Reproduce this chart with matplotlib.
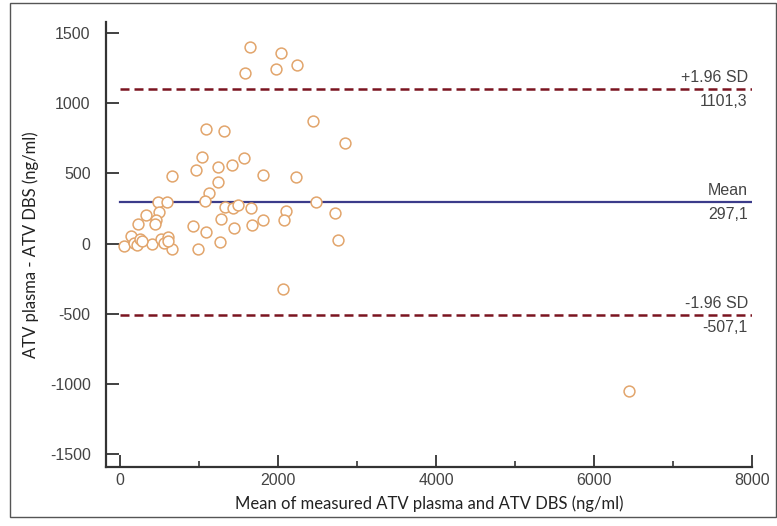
import matplotlib
matplotlib.use("Agg")
import matplotlib.pyplot as plt
from matplotlib.patches import Rectangle
from matplotlib.ticker import FuncFormatter

# Bland-Altman data: mean of both methods vs. difference (plasma - DBS)
mean_conc = [1646, 2034, 1582, 1975, 2244, 2439, 2848, 1089, 1312, 1042,
             966, 1236, 1413, 1570, 662, 1814, 2224, 1236, 1131, 1076,
             481, 591, 2481, 1325, 1434, 1489, 1662, 2105, 2717, 325,
             494, 456, 443, 224, 1282, 1806, 2072, 920, 1667, 1447,
             1093, 1262, 2764, 991, 662, 401, 51, 135, 177, 211,
             253, 274, 519, 557, 612, 612, 2059, 6443]
difference = [1401, 1360, 1218, 1242, 1270, 870, 713, 813, 798, 614,
              521, 543, 562, 607, 479, 491, 472, 441, 360, 306,
              294, 294, 294, 258, 254, 275, 254, 235, 216, 206,
              223, 164, 140, 140, 175, 164, 168, 123, 133, 107,
              85, 14, 28, -38, -38, -5, -16, 57, 2, -14,
              33, 21, 33, 2, 45, 21, -327, -1052]

mean_diff = 297.1
upper_loa = 1101.3
lower_loa = -507.1

x_ticks = [0, 2000, 4000, 6000, 8000]
x_minor = [1000, 3000, 5000, 7000]
y_ticks = [-1500, -1000, -500, 0, 500, 1000, 1500]

W, H = 777, 526
fig = plt.figure(figsize=(W / 100, H / 100), dpi=100)
fig.patches.append(Rectangle((10 / W, 1 - 517 / H), 766 / W, 514 / H,
                             transform=fig.transFigure, fill=False,
                             edgecolor="#555555", linewidth=1.0))

ax = fig.add_axes([106 / W, 1 - 467 / H, 646 / W, 445 / H])
ax.set_xlim(-177, 8000)
ax.set_ylim(-1592, 1578)

ax.plot(mean_conc, difference, linestyle="none", marker="o", markersize=7.8,
        markerfacecolor="white", markeredgecolor="#E2A56C",
        markeredgewidth=1.1, zorder=3)

ax.plot([0, 8000], [upper_loa, upper_loa], color="#7A1420", lw=1.8,
        dashes=(3.6, 2.0), zorder=2)
ax.plot([0, 8000], [lower_loa, lower_loa], color="#7A1420", lw=1.8,
        dashes=(3.6, 2.0), zorder=2)
ax.plot([0, 8000], [mean_diff, mean_diff], color="#3B3B8A", lw=1.6, zorder=2)

lab_font = dict(family="Liberation Sans", fontsize=11.5, color="#444444",
                ha="right")
for yv, top, bottom in [(upper_loa, "+1.96 SD", "1101,3"),
                        (mean_diff, "Mean", "297,1"),
                        (lower_loa, "-1.96 SD", "-507,1")]:
    ax.annotate(top, (8000, yv), xytext=(-3, 3), textcoords="offset points",
                va="bottom", **lab_font)
    ax.annotate(bottom, (8000, yv), xytext=(-3, -4),
                textcoords="offset points", va="top", **lab_font)

for side in ("top", "right"):
    ax.spines[side].set_visible(False)
for side in ("left", "bottom"):
    ax.spines[side].set_linewidth(1.6)
    ax.spines[side].set_color("#333333")

ax.set_xticks(x_ticks)
ax.set_xticks(x_minor, minor=True)
ax.set_yticks(y_ticks)
ax.tick_params(axis="both", which="major", direction="in", length=9,
               width=1.3, color="#333333", labelsize=11.5,
               labelcolor="#444444")
ax.tick_params(axis="x", which="minor", direction="in", length=4.5,
               width=1.2, color="#333333")
ax.tick_params(axis="y", pad=11)
ax.tick_params(axis="x", pad=4)
fmt = FuncFormatter(lambda v, p: f"{int(v)}")
ax.xaxis.set_major_formatter(fmt)
ax.yaxis.set_major_formatter(fmt)
for lab in ax.get_xticklabels() + ax.get_yticklabels():
    lab.set_family("Liberation Sans")

ax.set_xlabel("Mean of measured ATV plasma and ATV DBS (ng/ml)",
              family="Lato", fontsize=12, color="#222222", labelpad=6)
ax.set_ylabel("ATV plasma - ATV DBS (ng/ml)", family="Lato",
              fontsize=12, color="#222222", labelpad=8)

fig.savefig("out.png", dpi=100)
